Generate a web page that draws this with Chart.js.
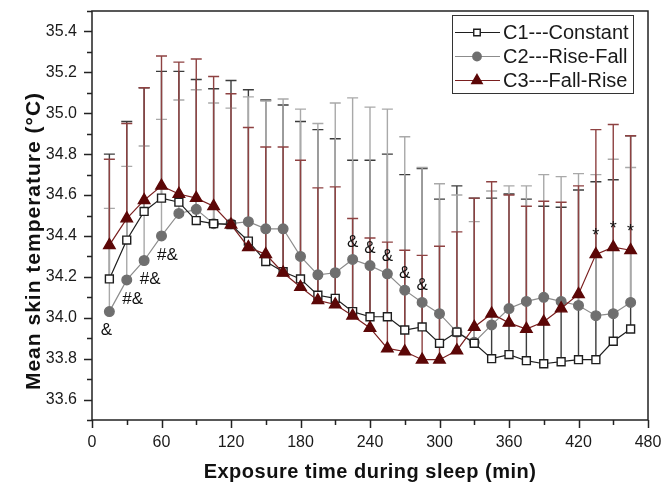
<!DOCTYPE html>
<html lang="en">
<head>
    <meta charset="UTF-8">
    <title>Mean skin temperature during sleep</title>
    <script src="https://cdn.jsdelivr.net/npm/chart.js"></script>
    <style>
        html, body { margin: 0; padding: 0; background: #fff; }
    </style>
</head>
<body>
    <canvas id="skinChart" width="662" height="487"></canvas>

    <script>
        // time points (min)
        const times = [15, 30, 45, 60, 75, 90, 105, 120, 135, 150, 165, 180, 195, 210, 225, 240,
                       255, 270, 285, 300, 315, 330, 345, 360, 375, 390, 405, 420, 435, 450, 465];

        // C1 Constant: mean and mean+SD
        const c1Mean = [34.19, 34.38, 34.52, 34.585, 34.565, 34.475, 34.46, 34.455, 34.375, 34.275, 34.225,
                        34.19, 34.11, 34.095, 34.03, 34.005, 34.005, 33.94, 33.955, 33.875, 33.93, 33.875,
                        33.80, 33.82, 33.79, 33.775, 33.785, 33.795, 33.795, 33.885, 33.945];
        const c1Upper = [34.80, 34.96, 35.125, 35.205, 35.205, 35.165, 35.12, 35.16, 35.115, 35.065, 35.04,
                         34.96, 34.92, 34.875, 34.77, 34.77, 34.80, 34.70, 34.73, 34.58, 34.645, 34.585,
                         34.585, 34.605, 34.58, 34.545, 34.54, 34.625, 34.665, 34.675, 34.89];

        // C2 Rise-Fall
        const c2Mean = [34.03, 34.185, 34.28, 34.40, 34.51, 34.53, 34.46, 34.46, 34.47, 34.435, 34.435,
                        34.30, 34.21, 34.22, 34.285, 34.255, 34.215, 34.135, 34.075, 34.02, 33.93, 33.88,
                        33.965, 34.045, 34.08, 34.10, 34.08, 34.06, 34.01, 34.02, 34.075];
        const c2Upper = [34.535, 34.74, 34.84, 34.97, 35.065, 35.115, 35.05, 35.025, 35.08, 35.06, 35.07,
                         35.02, 34.95, 35.05, 35.075, 35.03, 35.02, 34.885, 34.735, 34.655, 34.60, 34.47,
                         34.62, 34.645, 34.645, 34.70, 34.69, 34.705, 34.70, 34.775, 34.735];

        // C3 Fall-Rise
        const c3Mean = [34.355, 34.485, 34.575, 34.645, 34.605, 34.585, 34.545, 34.455, 34.345, 34.31, 34.22,
                        34.15, 34.085, 34.065, 34.01, 33.95, 33.85, 33.835, 33.795, 33.795, 33.84, 33.955,
                        34.02, 33.975, 33.945, 33.98, 34.045, 34.115, 34.31, 34.345, 34.33];
        const c3Upper = [34.775, 34.95, 35.125, 35.28, 35.25, 35.265, 35.18, 35.095, 34.93, 34.835, 34.835,
                         34.77, 34.635, 34.64, 34.485, 34.39, 34.37, 34.33, 34.305, 34.35, 34.42, 34.585,
                         34.665, 34.60, 34.545, 34.57, 34.565, 34.645, 34.92, 34.945, 34.89];

        const seriesNames = ['C1---Constant', 'C2---Rise-Fall', 'C3---Fall-Rise'];

        // significance marks: [time, text]
        const marksBelowC2 = [[15, '&'], [30, '#&'], [45, '#&'], [60, '#&']];
        const marksAboveC2 = [[225, '&'], [240, '&'], [255, '&'], [270, '&'], [285, '&']];
        const marksAboveC3 = [[435, '*'], [450, '*'], [465, '*']];

        const FONT = '"Liberation Sans", Arial, Helvetica, sans-serif';
        Chart.defaults.font.family = FONT;

        const styles = [
            { line: '#1e1e1e', fill: '#ffffff', edge: '#1e1e1e', shape: 'rect', r: 5.6, bar: '#3c3c3c' },
            { line: '#8c8c8c', fill: '#6f6f6f', edge: '#6f6f6f', shape: 'circle', r: 4.8, bar: '#a9a9a9' },
            { line: '#7a1f1f', fill: '#5c0707', edge: '#5c0707', shape: 'triangle', r: 6.6, bar: '#8e4242' }
        ];
        const means = [c1Mean, c2Mean, c3Mean];
        const uppers = [c1Upper, c2Upper, c3Upper];

        function makeDataset(i, order) {
            const s = styles[i];
            return {
                label: seriesNames[i],
                data: times.map((t, k) => ({ x: t, y: means[i][k] })),
                borderColor: s.line,
                borderWidth: 1.2,
                pointStyle: s.shape,
                pointRadius: s.r,
                pointBackgroundColor: s.fill,
                pointBorderColor: s.edge,
                pointBorderWidth: 1.4,
                tension: 0,
                order: order
            };
        }

        // upper error bars, drawn under the markers
        const errorBars = {
            id: 'errorBars',
            beforeDatasetsDraw(chart) {
                const { ctx, scales: { x, y } } = chart;
                ctx.save();
                ctx.lineWidth = 1.4;
                for (let i = 0; i < 3; i++) {
                    ctx.strokeStyle = styles[i].bar;
                    times.forEach((t, k) => {
                        const px = x.getPixelForValue(t);
                        const y0 = y.getPixelForValue(means[i][k]);
                        const y1 = y.getPixelForValue(uppers[i][k]);
                        ctx.beginPath();
                        ctx.moveTo(px, y0);
                        ctx.lineTo(px, y1);
                        ctx.moveTo(px - 5.5, y1);
                        ctx.lineTo(px + 5.5, y1);
                        ctx.stroke();
                    });
                }
                ctx.restore();
            }
        };

        const sigMarks = {
            id: 'sigMarks',
            afterDatasetsDraw(chart) {
                const { ctx, scales: { x, y } } = chart;
                const valAt = (arr, t) => arr[times.indexOf(t)];
                ctx.save();
                ctx.fillStyle = '#111';
                ctx.font = '17px ' + FONT;
                ctx.textAlign = 'center';
                ctx.textBaseline = 'middle';
                marksBelowC2.forEach(([t, txt]) => {
                    const dx = txt.length > 1 ? 6 : -3;
                    ctx.fillText(txt, x.getPixelForValue(t) + dx, y.getPixelForValue(valAt(c2Mean, t)) + 19);
                });
                marksAboveC2.forEach(([t, txt]) => {
                    ctx.fillText(txt, x.getPixelForValue(t), y.getPixelForValue(valAt(c2Mean, t)) - 17);
                });
                ctx.font = '18px ' + FONT;
                marksAboveC3.forEach(([t, txt]) => {
                    ctx.fillText(txt, x.getPixelForValue(t), y.getPixelForValue(valAt(c3Mean, t)) - 18);
                });
                ctx.restore();
            }
        };

        // frame, outward ticks, legend box and axis titles
        const decorations = {
            id: 'decorations',
            afterDraw(chart) {
                const { ctx, chartArea: a, scales: { x, y } } = chart;
                ctx.save();
                ctx.strokeStyle = '#222';
                ctx.lineWidth = 1.5;
                ctx.strokeRect(a.left, a.top, a.right - a.left, a.bottom - a.top);

                ctx.beginPath();
                y.ticks.forEach(tk => {
                    const py = Math.round(y.getPixelForValue(tk.value)) + 0.5;
                    const len = tk.label ? 8 : 5;
                    ctx.moveTo(a.left, py);
                    ctx.lineTo(a.left - len, py);
                });
                x.ticks.forEach(tk => {
                    const px = Math.round(x.getPixelForValue(tk.value)) + 0.5;
                    const len = tk.label ? 8 : 5;
                    ctx.moveTo(px, a.bottom);
                    ctx.lineTo(px, a.bottom + len);
                });
                ctx.stroke();

                // legend
                const bx = a.right - 196, by = a.top + 4, bw = 181, bh = 78;
                ctx.lineWidth = 1;
                ctx.strokeStyle = '#333';
                ctx.strokeRect(bx + 0.5, by + 0.5, bw, bh);
                ctx.font = '20px ' + FONT;
                ctx.textAlign = 'left';
                ctx.textBaseline = 'middle';
                for (let i = 0; i < 3; i++) {
                    const s = styles[i];
                    const ry = by + 17.5 + i * 24;
                    ctx.strokeStyle = s.line;
                    ctx.lineWidth = 1.2;
                    ctx.beginPath();
                    ctx.moveTo(bx + 3, ry);
                    ctx.lineTo(bx + 48, ry);
                    ctx.stroke();
                    ctx.fillStyle = s.fill;
                    ctx.strokeStyle = s.edge;
                    ctx.lineWidth = 1.4;
                    Chart.helpers.drawPoint(ctx, {
                        pointStyle: s.shape, radius: s.shape === 'rect' ? 4.6 : s.r - 0.6,
                        borderWidth: 1.4
                    }, bx + 25, ry);
                    ctx.fillStyle = '#1a1a1a';
                    ctx.fillText(seriesNames[i], bx + 51, ry + 1);
                }

                // axis titles
                ctx.fillStyle = '#111';
                ctx.textAlign = 'center';
                ctx.textBaseline = 'middle';
                ctx.font = 'bold 20px ' + FONT;
                ctx.letterSpacing = '0.5px';
                ctx.fillText('Exposure time during sleep (min)', (a.left + a.right) / 2, a.bottom + 52);
                ctx.font = 'bold 21px ' + FONT;
                ctx.letterSpacing = '1px';
                ctx.translate(a.left - 58, 241);
                ctx.rotate(-Math.PI / 2);
                ctx.fillText('Mean skin temperature (\u00B0C)', 0, 0);
                ctx.restore();
            }
        };

        const ctx = document.getElementById('skinChart');
        new Chart(ctx, {
            type: 'line',
            data: {
                datasets: [makeDataset(0, 1), makeDataset(1, 2), makeDataset(2, 0)]
            },
            options: {
                responsive: false,
                animation: false,
                layout: { padding: { top: 11, right: 14, left: 0, bottom: 0 } },
                plugins: {
                    legend: { display: false },
                    tooltip: { enabled: false }
                },
                scales: {
                    x: {
                        type: 'linear',
                        min: 0,
                        max: 480,
                        grid: { display: false },
                        border: { display: false },
                        ticks: {
                            stepSize: 30,
                            autoSkip: false,
                            maxRotation: 0,
                            padding: 5,
                            color: '#1a1a1a',
                            font: { size: 16 },
                            callback: v => (v % 60 === 0 ? String(v) : '')
                        },
                        afterFit: s => { s.height = 67; s.paddingLeft = 0; s.paddingRight = 0; }
                    },
                    y: {
                        type: 'linear',
                        min: 33.5,
                        max: 35.5,
                        grid: { display: false },
                        border: { display: false },
                        ticks: {
                            stepSize: 0.1,
                            autoSkip: false,
                            padding: 7,
                            color: '#1a1a1a',
                            font: { size: 16 },
                            callback: v => (Math.round(v * 10) % 2 === 0 ? v.toFixed(1) : '')
                        },
                        afterFit: s => { s.width = 92; s.paddingTop = 0; s.paddingBottom = 0; }
                    }
                }
            },
            plugins: [errorBars, sigMarks, decorations]
        });
    </script>
</body>
</html>
